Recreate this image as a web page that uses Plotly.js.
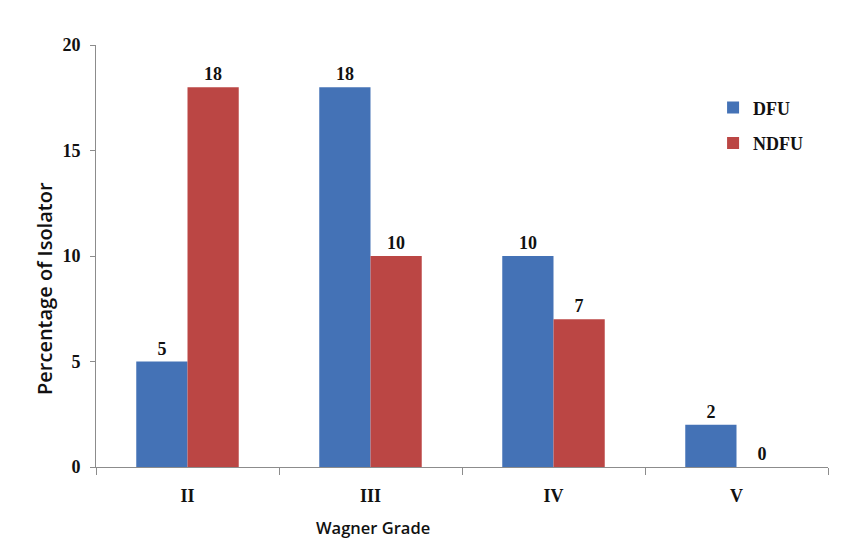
<!DOCTYPE html>
<html>
<head>
<meta charset="utf-8">
<script src="https://cdn.plot.ly/plotly-3.0.1.min.js"></script>
<style>html,body{margin:0;padding:0;background:#fff;}#chart{width:844px;height:558px;}</style>
</head>
<body>
<div id="chart"></div>
<script>
const categories = ["II", "III", "IV", "V"];
const dfuValues = [5, 18, 10, 2];
const ndfuValues = [18, 10, 7, 0];
const seriesNames = ["DFU", "NDFU"];
const yTickValues = [0, 5, 10, 15, 20];
const xTitle = "Wagner Grade";
const yTitle = "Percentage of Isolator";

const serifBold = {family: "'Liberation Serif', 'DejaVu Serif', serif", size: 18, color: "#111", weight: "bold"};

const traces = [
  {type: "bar", name: seriesNames[0], x: categories, y: dfuValues,
   marker: {color: "#4472b6"}, text: dfuValues.map(String), textposition: "outside",
   textfont: serifBold, cliponaxis: false, legendgroup: "a"},
  {type: "bar", name: seriesNames[1], x: categories, y: ndfuValues,
   marker: {color: "#bb4644"}, text: ndfuValues.map(String), textposition: "outside",
   textfont: serifBold, cliponaxis: false, legendgroup: "b"}
];

const layout = {
  width: 844, height: 558,
  margin: {l: 96, r: 16, t: 45, b: 91},
  paper_bgcolor: "#fff", plot_bgcolor: "#fff",
  barmode: "group", bargap: 0.44, bargroupgap: 0,
  showlegend: true,
  legend: {x: 0.843, y: 0.895, xanchor: "left", yanchor: "top", font: serifBold,
           traceorder: "grouped", tracegroupgap: 9, bgcolor: "rgba(0,0,0,0)", itemwidth: 30},
  xaxis: {type: "category", showline: true, linecolor: "#8c8c8c", linewidth: 1,
          ticks: "outside", tickson: "boundaries", ticklen: 7, tickcolor: "#8c8c8c",
          tickfont: serifBold, ticklabelstandoff: 12, showgrid: false, zeroline: false},
  yaxis: {range: [0, 20], tickvals: yTickValues, showline: true, linecolor: "#8c8c8c", linewidth: 1,
          ticks: "outside", ticklen: 5, tickcolor: "#8c8c8c", tickfont: serifBold,
          ticklabelstandoff: 6, showgrid: false, zeroline: false},
  annotations: [
    {text: xTitle, xref: "paper", yref: "paper", x: (373 - 96) / 732, y: -(527 - 467) / 422,
     xanchor: "center", yanchor: "middle", showarrow: false,
     font: {family: "'Open Sans', 'Noto Sans', sans-serif", size: 16.5, color: "#111", weight: 600}},
    {text: yTitle, xref: "paper", yref: "paper", x: -(96 - 44) / 732, y: (467 - 289) / 422,
     xanchor: "center", yanchor: "middle", showarrow: false, textangle: -90,
     font: {family: "'Open Sans', 'Noto Sans', sans-serif", size: 20, color: "#111", weight: 600}}
  ]
};

Plotly.newPlot("chart", traces, layout, {displayModeBar: false, staticPlot: true});
</script>
</body>
</html>
